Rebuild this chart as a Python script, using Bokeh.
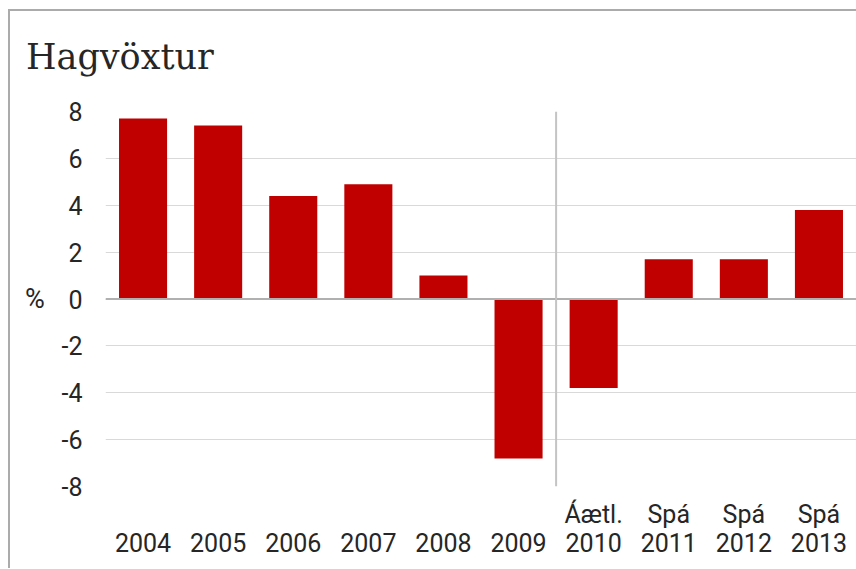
from bokeh.plotting import figure
from bokeh.models import FactorRange, Range1d, FixedTicker, Span, Div
from bokeh.layouts import column, row
from bokeh.embed import file_html
from bokeh.resources import INLINE

years = ["2004", "2005", "2006", "2007", "2008", "2009", "2010", "2011", "2012", "2013"]
growth = [7.7, 7.4, 4.4, 4.9, 1.0, -6.8, -3.8, 1.7, 1.7, 3.8]
x_labels = ["\n2004", "\n2005", "\n2006", "\n2007", "\n2008", "\n2009",
            "Áætl.\n2010", "Spá\n2011", "Spá\n2012", "Spá\n2013"]
y_ticks = [-8, -6, -4, -2, 0, 2, 4, 6, 8]
title_text = "Hagvöxtur"
unit_text = "%"

RED = "#C00000"
TXT = "#262626"
FONT = "Roboto"

title_div = Div(
    text=(f'<div style="font-family:\'DejaVu Serif\';font-size:35px;line-height:35px;'
          f'padding-left:16px;padding-top:29px;color:{TXT};white-space:nowrap">{title_text}</div>'),
    width=846, height=85, margin=0)

unit_div = Div(
    text=(f'<div style="font-family:Roboto;font-size:27px;line-height:27px;'
          f'padding-left:15px;padding-top:190px;color:{TXT}">{unit_text}</div>'),
    width=48, height=472, margin=0)

p = figure(width=798, height=472, x_range=FactorRange(*x_labels, range_padding=0),
           y_range=Range1d(-8, 8), output_backend="svg", toolbar_location=None,
           min_border_left=46, min_border_right=0, min_border_top=15, min_border_bottom=82)
p.outline_line_color = None
p.background_fill_color = "white"
p.border_fill_color = "white"

p.vbar(x=x_labels, top=growth, width=0.64, fill_color=RED, line_color=None)

# axes
p.yaxis.ticker = FixedTicker(ticks=y_ticks)
p.yaxis.major_label_overrides = {t: str(t) for t in y_ticks}
p.yaxis.axis_line_color = None
p.yaxis.major_tick_line_color = None
p.yaxis.minor_tick_line_color = None
p.yaxis.major_tick_out = 0
p.yaxis.major_label_standoff = 23
p.yaxis.major_label_text_font = FONT
p.yaxis.major_label_text_font_size = "25px"
p.yaxis.major_label_text_color = TXT

p.xaxis.axis_line_color = None
p.xaxis.major_tick_line_color = None
p.xaxis.minor_tick_line_color = None
p.xaxis.major_tick_out = 0
p.xaxis.major_label_standoff = 13
p.xaxis.major_label_text_font = FONT
p.xaxis.major_label_text_font_size = "25px"
p.xaxis.major_label_text_color = TXT
p.xaxis.major_label_text_line_height = 1.0

p.xgrid.grid_line_color = None
p.ygrid.grid_line_color = "#d9d9d9"
p.ygrid.grid_line_width = 1

p.add_layout(Span(location=0, dimension="width", line_color="#b0b0b0", line_width=2))
p.add_layout(Span(location=6, dimension="height", line_color="#c4c4c4", line_width=2))

layout = column(title_div, row(unit_div, p, spacing=0), spacing=0)
layout.styles = {"border-top": "2px solid #ababab", "border-left": "2px solid #ababab",
                 "margin-left": "8px", "margin-top": "9px"}

open("out.html", "w").write(file_html(layout, INLINE))
